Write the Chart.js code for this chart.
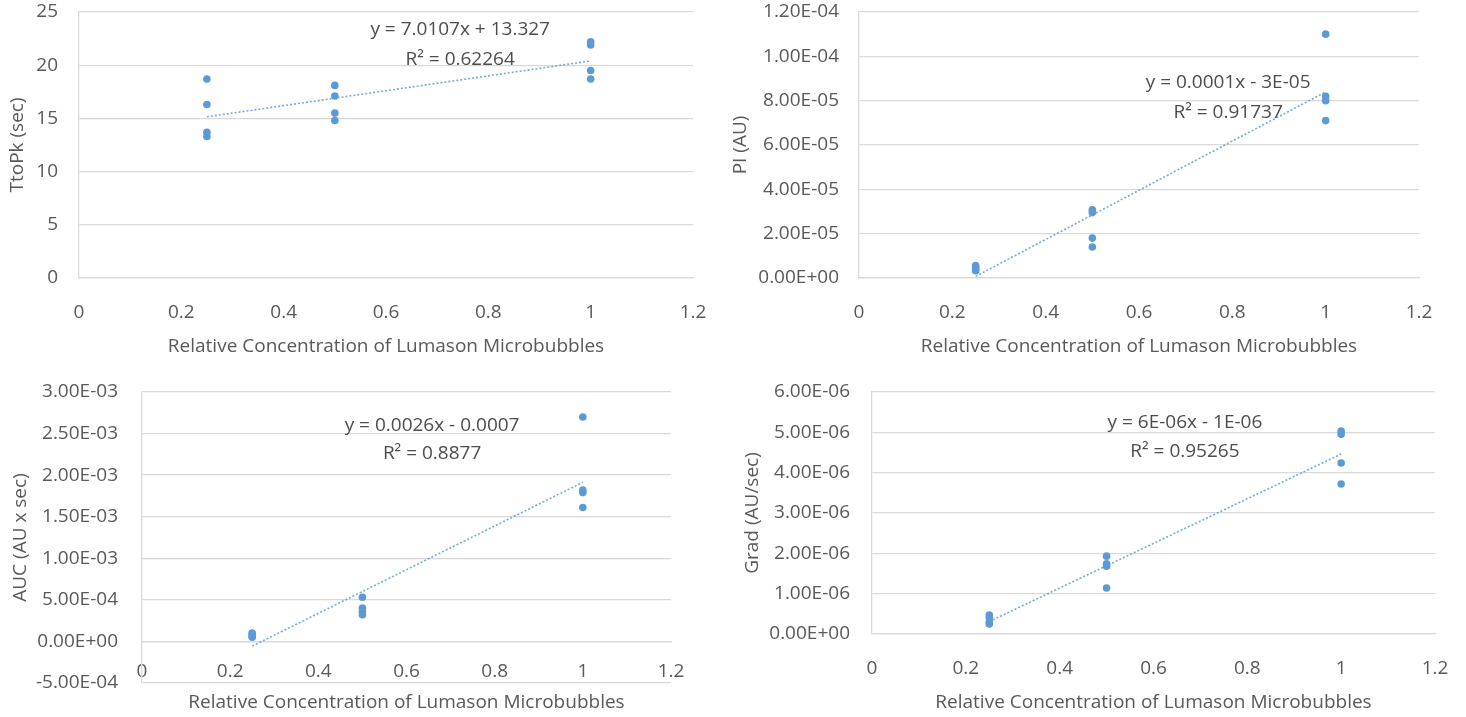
<!DOCTYPE html>
<html>
<head>
<meta charset="utf-8">
<title>Lumason microbubble concentration – perfusion parameters</title>
<script src="https://cdn.jsdelivr.net/npm/chart.js@4/dist/chart.umd.min.js"></script>
<style>
  html, body { margin: 0; padding: 0; background: #ffffff; }
  body { width: 1466px; height: 717px; position: relative; overflow: hidden; }
  canvas { position: absolute; }
  #cTtoPk { left: 0;     top: 0; }
  #cPI    { left: 723px; top: 0; }
  #cAUC   { left: 0;     top: 360px; }
  #cGrad  { left: 723px; top: 360px; }
</style>
</head>
<body>
<canvas id="cTtoPk" width="733" height="360"></canvas>
<canvas id="cPI"    width="743" height="360"></canvas>
<canvas id="cAUC"   width="733" height="357"></canvas>
<canvas id="cGrad"  width="743" height="357"></canvas>
<script>
// Relative concentration of each measurement (four samples per dilution)
const relConc = [0.25, 0.25, 0.25, 0.25, 0.5, 0.5, 0.5, 0.5, 1, 1, 1, 1];

// Time to peak (sec)
const ttopk = [18.7, 16.3, 13.7, 13.3, 18.1, 17.1, 15.5, 14.8, 22.2, 21.9, 19.5, 18.7];
// Peak intensity (AU)
const peakIntensity = [5.6e-6, 4.6e-6, 3.8e-6, 3.3e-6, 3.08e-5, 2.95e-5, 1.8e-5, 1.4e-5, 1.10e-4, 8.2e-5, 8.0e-5, 7.1e-5];
// Area under curve (AU x sec)
const auc = [1.0e-4, 8.5e-5, 6.5e-5, 5.0e-5, 5.32e-4, 4.0e-4, 3.6e-4, 3.2e-4, 2.70e-3, 1.82e-3, 1.79e-3, 1.61e-3];
// Wash-in gradient (AU/sec)
const grad = [4.7e-7, 4.0e-7, 3.0e-7, 2.5e-7, 1.93e-6, 1.74e-6, 1.68e-6, 1.14e-6, 5.03e-6, 4.95e-6, 4.24e-6, 3.72e-6];

// Axis tick values
const xTicks = [0, 0.2, 0.4, 0.6, 0.8, 1, 1.2];
const ttopkTicks = [0, 5, 10, 15, 20, 25];
const piTicks = [0, 2e-5, 4e-5, 6e-5, 8e-5, 1.0e-4, 1.2e-4];
const aucTicks = [-5e-4, 0, 5e-4, 1.0e-3, 1.5e-3, 2.0e-3, 2.5e-3, 3.0e-3];
const gradTicks = [0, 1e-6, 2e-6, 3e-6, 4e-6, 5e-6, 6e-6];

// Trendline equation texts
const ttopkFit = ['y = 7.0107x + 13.327', 'R\u00B2 = 0.62264'];
const piFit = ['y = 0.0001x - 3E-05', 'R\u00B2 = 0.91737'];
const aucFit = ['y = 0.0026x - 0.0007', 'R\u00B2 = 0.8877'];
const gradFit = ['y = 6E-06x - 1E-06', 'R\u00B2 = 0.95265'];

const AXIS_TEXT = '#595959';
const GRID = '#d9d9d9';
const BLUE = '#5b9bd5';
const FONT = '"Open Sans", "DejaVu Sans", sans-serif';
const TEXT_SIZE = 19;

// Excel style scientific label: 1.20E-04
function sci(v) {
  const s = Number(v).toExponential(2);
  const [m, e] = s.split('e');
  const n = parseInt(e, 10);
  const ee = (n < 0 ? '-' : '+') + String(Math.abs(n)).padStart(2, '0');
  return m + 'E' + ee;
}

// Ordinary least squares line over the measured points
function linearFit(xs, ys) {
  const n = xs.length;
  const mx = xs.reduce((a, b) => a + b, 0) / n;
  const my = ys.reduce((a, b) => a + b, 0) / n;
  let sxy = 0, sxx = 0;
  for (let i = 0; i < n; i++) {
    sxy += (xs[i] - mx) * (ys[i] - my);
    sxx += (xs[i] - mx) * (xs[i] - mx);
  }
  const slope = sxy / sxx;
  return { slope, intercept: my - slope * mx };
}

// Writes the trendline equation text centred at a data position
const equationLabel = {
  id: 'equationLabel',
  afterDatasetsDraw(chart, args, opts) {
    if (!opts || !opts.lines) return;
    const { ctx, scales } = chart;
    const px = scales.x.getPixelForValue(opts.x);
    const py = scales.y.getPixelForValue(opts.y);
    ctx.save();
    ctx.font = TEXT_SIZE + 'px ' + FONT;
    ctx.fillStyle = '#4d4d4d';
    ctx.textAlign = 'center';
    ctx.textBaseline = 'middle';
    opts.lines.forEach((t, i) => ctx.fillText(t, px, py + i * opts.gap));
    ctx.restore();
  }
};

function makeChart(id, cfg) {
  const xs = relConc;
  const ys = cfg.values;
  const fit = linearFit(xs, ys);
  const xMin = Math.min(...xs), xMax = Math.max(...xs);
  const points = xs.map((x, i) => ({ x, y: ys[i] }));
  const trend = [
    { x: xMin, y: fit.intercept + fit.slope * xMin },
    { x: xMax, y: fit.intercept + fit.slope * xMax }
  ];

  return new Chart(document.getElementById(id), {
    type: 'scatter',
    data: {
      datasets: [
        {
          data: points,
          backgroundColor: BLUE,
          borderColor: BLUE,
          pointRadius: 3.8,
          pointBorderWidth: 0,
          order: 1
        },
        {
          type: 'line',
          data: trend,
          showLine: true,
          borderColor: 'rgba(91,155,213,0.85)',
          borderWidth: 1.6,
          borderDash: [2, 2],
          pointRadius: 0,
          fill: false,
          order: 2
        }
      ]
    },
    options: {
      responsive: false,
      animation: false,
      events: [],
      layout: { padding: cfg.pad },
      plugins: {
        legend: { display: false },
        tooltip: { enabled: false },
        equationLabel: cfg.label
      },
      scales: {
        x: {
          type: 'linear',
          position: cfg.xPos || 'bottom',
          min: 0,
          max: 1.2,
          afterBuildTicks: s => { s.ticks = xTicks.map(v => ({ value: v })); },
          afterFit: s => {
            s.height = cfg.xHeight;
            s.paddingLeft = 0;
            s.paddingRight = 0;
          },
          grid: { display: false, drawTicks: false },
          border: { display: true, color: GRID, width: 1.3 },
          ticks: {
            padding: cfg.xTickPad,
            color: AXIS_TEXT,
            font: { family: FONT, size: TEXT_SIZE },
            maxRotation: 0,
            autoSkip: false,
            callback: v => String(v)
          },
          title: {
            display: true,
            text: 'Relative Concentration of Lumason Microbubbles',
            color: AXIS_TEXT,
            font: { family: FONT, size: TEXT_SIZE },
            padding: { top: 0, bottom: cfg.xTitlePad }
          }
        },
        y: {
          type: 'linear',
          min: cfg.ticks[0],
          max: cfg.ticks[cfg.ticks.length - 1],
          afterBuildTicks: s => { s.ticks = cfg.ticks.map(v => ({ value: v })); },
          afterFit: s => {
            s.width = cfg.yWidth;
            s.paddingTop = 0;
            s.paddingBottom = 0;
          },
          grid: { color: GRID, lineWidth: 1.3, drawTicks: false },
          border: { display: true, color: GRID, width: 1.3 },
          ticks: {
            padding: cfg.yTickPad,
            color: AXIS_TEXT,
            font: { family: FONT, size: TEXT_SIZE },
            autoSkip: false,
            callback: cfg.fmt
          },
          title: {
            display: true,
            text: cfg.yTitle,
            color: AXIS_TEXT,
            font: { family: FONT, size: TEXT_SIZE },
            padding: { top: cfg.yTitlePad, bottom: 0 }
          }
        }
      }
    },
    plugins: [equationLabel]
  });
}

function build() {
  makeChart('cTtoPk', {
    values: ttopk, ticks: ttopkTicks, fmt: v => String(v),
    yTitle: 'TtoPk (sec)',
    pad: { left: 0, top: 12, right: 40, bottom: 0 },
    yWidth: 79, yTickPad: 21, yTitlePad: 6.6,
    xHeight: 82, xTickPad: 23, xTitlePad: 1.6,
    label: { lines: ttopkFit, x: 0.745, y: 23.3, gap: 30 }
  });
  makeChart('cPI', {
    values: peakIntensity, ticks: piTicks, fmt: sci,
    yTitle: 'PI (AU)',
    pad: { left: 0, top: 12, right: 47, bottom: 0 },
    yWidth: 136, yTickPad: 20, yTitlePad: 6.6,
    xHeight: 82, xTickPad: 23, xTitlePad: 1.6,
    label: { lines: piFit, x: 0.791, y: 8.8e-5, gap: 30 }
  });
  // The horizontal axis crosses at y = 0, so its labels sit inside the plot
  makeChart('cAUC', {
    values: auc, ticks: aucTicks, fmt: sci,
    yTitle: 'AUC (AU x sec)',
    pad: { left: 0, top: 32, right: 62, bottom: 34 },
    yWidth: 142, yTickPad: 24, yTitlePad: 9.6,
    xPos: { y: 0 },
    xHeight: 72.7, xTickPad: 19, xTitlePad: 0,
    label: { lines: aucFit, x: 0.658, y: 2.6e-3, gap: 28 }
  });
  makeChart('cGrad', {
    values: grad, ticks: gradTicks, fmt: sci,
    yTitle: 'Grad (AU/sec)',
    pad: { left: 0, top: 32, right: 31, bottom: 0 },
    yWidth: 149, yTickPad: 22, yTitlePad: 18.6,
    xHeight: 83, xTickPad: 23, xTitlePad: 2.6,
    label: { lines: gradFit, x: 0.667, y: 5.23e-6, gap: 29 }
  });
}

if (document.fonts && document.fonts.load) {
  document.fonts.load(TEXT_SIZE + 'px "Open Sans"').then(build, build);
} else {
  build();
}
</script>
</body>
</html>
